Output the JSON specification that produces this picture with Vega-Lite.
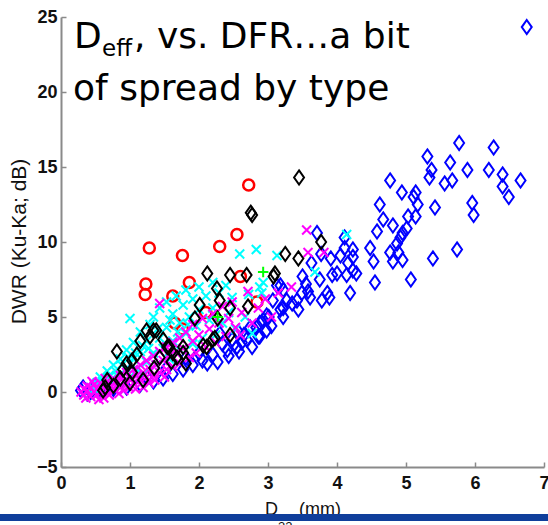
{
  "$schema": "https://vega.github.io/schema/vega-lite/v6.json",
  "width": 483,
  "height": 450,
  "autosize": "none",
  "padding": {"left": 61, "top": 17, "right": 4, "bottom": 58},
  "background": "white",
  "config": {"view": {"stroke": null}},
  "datasets": {
    "blue": [
      {"x":5.77,"y":16.6},{"x":6.27,"y":16.3},{"x":5.31,"y":15.7},{"x":5.64,"y":15.3},{"x":5.89,"y":14.8},{"x":6.20,"y":14.8},{"x":5.37,"y":14.8},{"x":5.34,"y":14.3},{"x":6.40,"y":14.5},{"x":6.66,"y":14.1},{"x":4.77,"y":14.1},{"x":5.56,"y":13.9},{"x":5.67,"y":14.1},{"x":6.40,"y":13.7},{"x":6.49,"y":13.0},{"x":4.94,"y":13.3},{"x":5.14,"y":13.3},{"x":5.11,"y":13.0},{"x":5.17,"y":12.5},{"x":4.62,"y":12.5},{"x":5.42,"y":12.3},{"x":5.96,"y":12.6},{"x":5.98,"y":11.8},{"x":5.03,"y":11.7},{"x":5.14,"y":11.7},{"x":4.67,"y":11.5},{"x":4.81,"y":11.1},{"x":4.58,"y":10.7},{"x":4.95,"y":10.6},{"x":5.01,"y":10.9},{"x":4.92,"y":10.3},{"x":4.87,"y":9.9},{"x":4.77,"y":9.3},{"x":4.89,"y":9.3},{"x":4.48,"y":9.6},{"x":4.81,"y":8.7},{"x":4.95,"y":8.8},{"x":4.53,"y":8.7},{"x":5.39,"y":8.9},{"x":5.74,"y":9.5},{"x":5.07,"y":7.5},{"x":4.55,"y":7.3},
      {"x":4.11,"y":10.3},{"x":4.11,"y":9.6},{"x":4.23,"y":9.5},{"x":4.23,"y":9.0},{"x":4.05,"y":9.1},{"x":4.16,"y":8.6},{"x":4.23,"y":8.1},{"x":4.28,"y":7.9},{"x":4.00,"y":7.9},{"x":4.14,"y":7.8},{"x":4.19,"y":6.6},{"x":3.93,"y":7.8},{"x":3.71,"y":10.6},{"x":3.50,"y":7.7},{"x":3.75,"y":7.5},{"x":3.86,"y":6.6},{"x":3.89,"y":6.3},{"x":3.78,"y":6.1},{"x":3.61,"y":6.3},{"x":3.58,"y":6.7},{"x":3.49,"y":6.6},{"x":3.42,"y":6.1},{"x":3.44,"y":5.5},{"x":3.22,"y":6.8},{"x":3.27,"y":6.1},{"x":3.18,"y":7.1},{"x":3.22,"y":5.6},{"x":3.22,"y":5.0},{"x":3.01,"y":5.0},{"x":2.93,"y":4.8},{"x":2.98,"y":4.1},{"x":2.83,"y":4.3},{"x":2.86,"y":3.7},{"x":3.07,"y":6.1},{"x":3.13,"y":7.1},{"x":3.18,"y":5.5},{"x":2.98,"y":5.1},{"x":2.88,"y":4.6},{"x":2.74,"y":4.3},{"x":2.57,"y":4.0},{"x":2.48,"y":3.5},{"x":2.30,"y":3.9},{"x":2.88,"y":3.7},{"x":2.69,"y":3.5},{"x":2.41,"y":2.8},{"x":2.55,"y":3.0},{"x":2.20,"y":2.5},{"x":2.12,"y":1.9},{"x":2.27,"y":2.0},{"x":3.77,"y":9.2},{"x":3.91,"y":8.9},{"x":3.63,"y":8.6},{"x":3.35,"y":5.9},{"x":3.05,"y":4.4},{"x":2.65,"y":3.8},{"x":3.55,"y":7.2},
      {"x":1.91,"y":1.8},{"x":1.77,"y":1.5},{"x":1.62,"y":1.2},{"x":1.48,"y":0.9},{"x":1.34,"y":0.7},{"x":1.15,"y":0.5},{"x":0.95,"y":0.3},{"x":0.76,"y":0.2},{"x":0.57,"y":0.1},{"x":0.43,"y":0.0},{"x":0.32,"y":0.3},{"x":0.29,"y":0.1},{"x":0.48,"y":0.4},{"x":0.38,"y":-0.1},{"x":1.81,"y":2.3},{"x":2.00,"y":2.6},{"x":2.34,"y":3.2},{"x":2.62,"y":3.3},{"x":2.77,"y":3.0},{"x":2.43,"y":2.4},{"x":1.53,"y":1.6},{"x":1.24,"y":1.0},{"x":2.05,"y":2.1},{"x":2.58,"y":2.7},
      {"x":6.75,"y":24.33}
    ],
    "red": [
      {"x":2.72,"y":13.8},{"x":2.55,"y":10.5},{"x":2.30,"y":9.7},{"x":1.28,"y":9.6},{"x":1.76,"y":9.1},{"x":1.23,"y":7.2},{"x":1.22,"y":6.5},{"x":1.86,"y":7.3},{"x":1.62,"y":6.4},{"x":2.60,"y":7.7},{"x":2.84,"y":6.0},{"x":1.65,"y":4.6},{"x":1.76,"y":4.2},{"x":2.10,"y":5.3}
    ],
    "cyan": [
      {"x":0.43,"y":0.3},{"x":0.52,"y":0.6},{"x":0.57,"y":1.0},{"x":0.62,"y":0.4},{"x":0.67,"y":1.4},{"x":0.72,"y":0.8},{"x":0.76,"y":1.8},{"x":0.81,"y":1.1},{"x":0.86,"y":2.2},{"x":0.91,"y":0.7},{"x":0.95,"y":1.6},{"x":0.95,"y":2.8},{"x":1.00,"y":4.9},{"x":1.00,"y":1.0},{"x":1.05,"y":2.2},{"x":1.05,"y":3.3},{"x":1.10,"y":1.5},{"x":1.15,"y":2.7},{"x":1.15,"y":4.0},{"x":1.19,"y":1.2},{"x":1.24,"y":3.4},{"x":1.24,"y":2.0},{"x":1.29,"y":4.5},{"x":1.34,"y":2.6},{"x":1.34,"y":5.0},{"x":1.38,"y":1.8},{"x":1.43,"y":3.6},{"x":1.43,"y":5.6},{"x":1.48,"y":2.9},{"x":1.53,"y":4.3},{"x":1.53,"y":6.0},{"x":1.57,"y":2.2},{"x":1.62,"y":5.2},{"x":1.62,"y":3.4},{"x":1.67,"y":6.4},{"x":1.72,"y":4.6},{"x":1.72,"y":2.8},{"x":1.77,"y":5.8},{"x":1.81,"y":3.9},{"x":1.81,"y":6.8},{"x":1.86,"y":5.0},{"x":1.91,"y":3.2},{"x":1.91,"y":6.2},{"x":1.96,"y":4.4},{"x":2.00,"y":7.0},{"x":2.00,"y":5.5},{"x":2.05,"y":3.6},{"x":2.10,"y":6.4},{"x":2.15,"y":4.8},{"x":2.20,"y":7.3},{"x":2.20,"y":5.6},{"x":2.24,"y":3.8},{"x":2.29,"y":6.6},{"x":2.34,"y":4.6},{"x":2.39,"y":7.1},{"x":2.43,"y":5.3},{"x":2.48,"y":6.3},{"x":2.53,"y":4.2},{"x":2.59,"y":9.2},{"x":2.83,"y":9.5},{"x":3.13,"y":9.1},{"x":2.93,"y":7.3},{"x":2.88,"y":7.0},{"x":2.91,"y":6.6},{"x":2.77,"y":3.9},{"x":3.68,"y":8.0},{"x":4.14,"y":10.5},{"x":2.67,"y":5.0},{"x":2.72,"y":6.5},{"x":0.48,"y":0.2},{"x":0.38,"y":0.0},
      {"x":0.60,"y":0.7},{"x":0.70,"y":1.1},{"x":0.79,"y":1.4},{"x":0.88,"y":1.8},{"x":0.98,"y":2.3},{"x":1.08,"y":2.6},{"x":1.18,"y":3.1},{"x":1.27,"y":2.9},{"x":1.40,"y":4.2},{"x":1.58,"y":4.8},{"x":1.69,"y":4.0},{"x":1.84,"y":4.5}
    ],
    "magenta": [
      {"x":0.29,"y":0.0},{"x":0.33,"y":0.2},{"x":0.33,"y":-0.2},{"x":0.38,"y":0.4},{"x":0.38,"y":0.1},{"x":0.43,"y":-0.3},{"x":0.43,"y":0.3},{"x":0.48,"y":0.0},{"x":0.48,"y":0.5},{"x":0.52,"y":0.2},{"x":0.52,"y":-0.2},{"x":0.57,"y":0.6},{"x":0.57,"y":0.0},{"x":0.62,"y":0.3},{"x":0.67,"y":0.1},{"x":0.67,"y":0.7},{"x":0.72,"y":0.4},{"x":0.76,"y":0.9},{"x":0.76,"y":0.2},{"x":0.81,"y":0.5},{"x":0.86,"y":1.1},{"x":0.86,"y":0.3},{"x":0.91,"y":0.7},{"x":0.95,"y":1.3},{"x":0.95,"y":0.5},{"x":1.00,"y":0.9},{"x":1.05,"y":1.5},{"x":1.05,"y":0.6},{"x":1.10,"y":1.1},{"x":1.15,"y":1.8},{"x":1.15,"y":0.8},{"x":1.19,"y":1.3},{"x":1.24,"y":2.1},{"x":1.24,"y":1.0},{"x":1.29,"y":1.5},{"x":1.34,"y":2.4},{"x":1.34,"y":1.1},{"x":1.38,"y":1.8},{"x":1.43,"y":5.9},{"x":1.43,"y":2.7},{"x":1.43,"y":1.3},{"x":1.48,"y":2.1},{"x":1.53,"y":3.0},{"x":1.53,"y":1.5},{"x":1.57,"y":2.4},{"x":1.62,"y":3.3},{"x":1.62,"y":1.7},{"x":1.67,"y":2.6},{"x":1.72,"y":3.6},{"x":1.72,"y":1.9},{"x":1.77,"y":2.9},{"x":1.81,"y":4.0},{"x":1.86,"y":2.3},{"x":1.91,"y":3.4},{"x":1.91,"y":4.5},{"x":1.96,"y":2.6},{"x":2.00,"y":3.8},{"x":2.05,"y":4.9},{"x":2.10,"y":3.0},{"x":2.15,"y":4.2},{"x":2.20,"y":5.2},{"x":2.24,"y":3.3},{"x":2.29,"y":4.6},{"x":2.34,"y":5.7},{"x":2.39,"y":3.7},{"x":2.43,"y":4.9},{"x":2.48,"y":6.0},{"x":2.53,"y":4.3},{"x":2.60,"y":3.8},{"x":2.62,"y":5.3},{"x":2.71,"y":6.7},{"x":2.77,"y":4.6},{"x":2.86,"y":5.6},{"x":2.96,"y":6.2},{"x":3.05,"y":5.0},{"x":3.56,"y":10.8},{"x":3.58,"y":9.3},{"x":3.81,"y":9.3},{"x":3.34,"y":7.0},{"x":3.15,"y":6.6},{"x":1.19,"y":0.3},{"x":0.62,"y":-0.4},{"x":0.91,"y":0.1},
      {"x":0.36,"y":-0.4},{"x":0.45,"y":0.7},{"x":0.55,"y":-0.5},{"x":0.64,"y":0.9},{"x":0.70,"y":-0.2},{"x":0.79,"y":0.6},{"x":0.84,"y":-0.1},{"x":0.99,"y":0.3},{"x":1.08,"y":0.2},{"x":1.28,"y":0.6},{"x":1.36,"y":0.8},{"x":1.50,"y":1.0}
    ],
    "black": [
      {"x":3.45,"y":14.3},{"x":2.77,"y":11.8},{"x":2.75,"y":11.95},{"x":3.25,"y":9.2},{"x":3.44,"y":8.9},{"x":3.08,"y":7.7},{"x":3.77,"y":10.0},{"x":2.12,"y":7.9},{"x":2.45,"y":7.8},{"x":2.69,"y":7.8},{"x":3.10,"y":7.9},{"x":2.26,"y":6.9},{"x":2.30,"y":6.1},{"x":2.01,"y":5.8},{"x":2.71,"y":5.7},{"x":2.45,"y":5.6},{"x":1.94,"y":4.9},{"x":2.27,"y":4.9},{"x":2.45,"y":3.8},{"x":2.20,"y":3.5},{"x":2.06,"y":3.1},{"x":1.57,"y":3.0},{"x":1.77,"y":2.6},{"x":1.34,"y":4.1},{"x":1.68,"y":2.3},{"x":0.81,"y":2.7},{"x":1.24,"y":4.1},{"x":1.38,"y":4.1},{"x":1.29,"y":3.7},{"x":1.03,"y":2.1},{"x":0.90,"y":1.5},{"x":0.67,"y":0.8},{"x":0.61,"y":0.1},{"x":1.19,"y":0.8},{"x":1.77,"y":3.0},{"x":2.11,"y":3.0},{"x":2.23,"y":3.6},{"x":0.95,"y":1.9},{"x":1.03,"y":1.3},{"x":1.00,"y":0.6},{"x":0.64,"y":0.3},{"x":1.54,"y":3.0},{"x":1.62,"y":2.6},{"x":1.15,"y":3.4},{"x":1.10,"y":2.5},{"x":0.86,"y":0.9},{"x":1.43,"y":2.3},{"x":1.81,"y":1.9},{"x":1.48,"y":3.5},{"x":0.76,"y":0.4},{"x":1.60,"y":2.0},{"x":1.35,"y":1.6}
    ],
    "green": [
      {"x":2.93,"y":8.0},{"x":2.27,"y":5.0}
    ],
    "headline": [
      {"x":0.188,"y":22.93,"label":"D"},
      {"x":1.058,"y":22.93,"label":", vs. DFR…a bit"},
      {"x":0.174,"y":19.47,"label":"of spread by type"}
    ],
    "headsub": [
      {"x":0.594,"y":22.4,"label":"eff"}
    ],
    "xtitle": [
      {"x":2.957,"y":-8.2,"label":"D"},
      {"x":3.449,"y":-8.2,"label":"(mm)"}
    ],
    "xtitlesub": [
      {"x":3.145,"y":-9.27,"label":"32"}
    ],
    "bar": [
      {"x":-1.0,"x2":7.2,"y":-8.37}
    ]
  },
  "encoding": {
    "x": {
      "field": "x", "type": "quantitative",
      "scale": {"domain": [0, 7], "nice": false, "zero": false},
      "axis": {
        "values": [0,1,2,3,4,5,6,7], "format": "d", "grid": false, "title": null,
        "domainColor": "#8a8a8a", "domainWidth": 2, "tickColor": "#8a8a8a", "tickWidth": 1.5, "tickSize": -5,
        "labelFont": "Liberation Sans", "labelFontSize": 18, "labelFontWeight": "bold", "labelColor": "#111111",
        "labelPadding": 12, "labelFlush": false, "labelOverlap": false, "labelBound": false
      }
    },
    "y": {
      "field": "y", "type": "quantitative",
      "scale": {"domain": [-5, 25], "nice": false, "zero": false},
      "axis": {
        "values": [-5,0,5,10,15,20,25], "format": "d", "grid": false,
        "title": "DWR (Ku-Ka; dB)",
        "domainColor": "#8a8a8a", "domainWidth": 2, "tickColor": "#8a8a8a", "tickWidth": 1.5, "tickSize": -5,
        "labelFont": "Liberation Sans", "labelFontSize": 18, "labelFontWeight": "bold", "labelColor": "#111111",
        "labelPadding": 9, "labelFlush": false, "labelOverlap": false, "labelBound": false,
        "titleFont": "Liberation Sans", "titleFontSize": 21, "titleFontWeight": "normal", "titleColor": "#111111",
        "titleAngle": -90, "titleAlign": "center", "titleBaseline": "middle", "titleX": -42, "titleY": 224
      }
    }
  },
  "layer": [
    {
      "data": {"name": "blue"},
      "mark": {"type": "point", "shape": "M0,-1.35L0.95,0L0,1.35L-0.95,0Z", "size": 110, "filled": false, "stroke": "#0000ff", "strokeWidth": 2, "opacity": 1}
    },
    {
      "data": {"name": "red"},
      "mark": {"type": "point", "shape": "circle", "size": 121, "filled": false, "stroke": "#ff0000", "strokeWidth": 2.5, "opacity": 1}
    },
    {
      "data": {"name": "cyan"},
      "mark": {"type": "point", "shape": "M-1,-1L1,1M-1,1L1,-1", "size": 81, "filled": false, "stroke": "#00ffff", "strokeWidth": 2, "opacity": 1}
    },
    {
      "data": {"name": "magenta"},
      "mark": {"type": "point", "shape": "M-1,-1L1,1M-1,1L1,-1", "size": 81, "filled": false, "stroke": "#ff00ff", "strokeWidth": 2, "opacity": 1}
    },
    {
      "data": {"name": "black"},
      "mark": {"type": "point", "shape": "M0,-1.35L0.95,0L0,1.35L-0.95,0Z", "size": 110, "filled": false, "stroke": "#000000", "strokeWidth": 2, "opacity": 1}
    },
    {
      "data": {"name": "green"},
      "mark": {"type": "point", "shape": "M-1,0L1,0M0,-1L0,1", "size": 110, "filled": false, "stroke": "#00ff00", "strokeWidth": 2, "opacity": 1}
    },
    {
      "data": {"name": "headline"},
      "mark": {"type": "text", "align": "left", "baseline": "alphabetic", "font": "DejaVu Sans", "fontSize": 36, "color": "#000000"},
      "encoding": {"text": {"field": "label"}}
    },
    {
      "data": {"name": "headsub"},
      "mark": {"type": "text", "align": "left", "baseline": "alphabetic", "font": "DejaVu Sans", "fontSize": 23, "color": "#000000"},
      "encoding": {"text": {"field": "label"}}
    },
    {
      "data": {"name": "xtitle"},
      "mark": {"type": "text", "align": "left", "baseline": "alphabetic", "font": "Liberation Sans", "fontSize": 18, "color": "#111111"},
      "encoding": {"text": {"field": "label"}}
    },
    {
      "data": {"name": "xtitlesub"},
      "mark": {"type": "text", "align": "left", "baseline": "alphabetic", "font": "Liberation Sans", "fontSize": 13, "color": "#111111"},
      "encoding": {"text": {"field": "label"}}
    },
    {
      "data": {"name": "bar"},
      "mark": {"type": "rule", "color": "#0f3e9b", "strokeWidth": 7},
      "encoding": {"x2": {"field": "x2"}}
    }
  ]
}
